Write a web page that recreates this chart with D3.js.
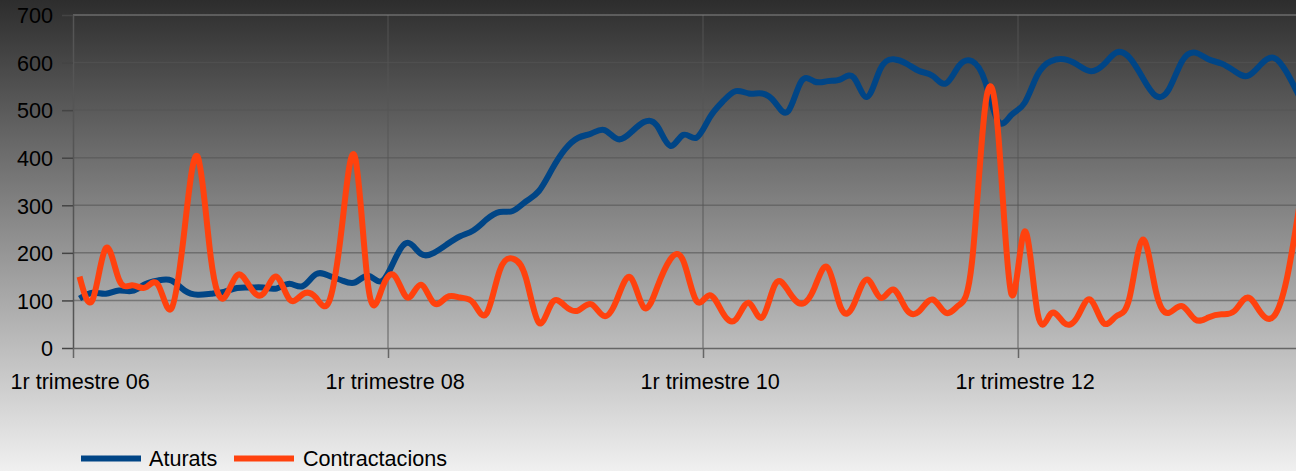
<!DOCTYPE html>
<html><head><meta charset="utf-8">
<script src="https://cdn.jsdelivr.net/npm/d3@7"></script>
<style>body{margin:0;overflow:hidden}svg{display:block}text{font-family:"Liberation Sans",Arial,sans-serif}</style>
</head><body><svg id="c" width="1296" height="471"></svg>
<script>
const seriesNames = ["Aturats", "Contractacions"];
const aturats = [104,116,114,121,120,134,142,142,121,112,114,118,126,127,127,125,135,130,155,152,142,138,152,140,
  185,221,198,200,218,235,247,270,286,288,308,330,376,418,442,451,458,439,453,475,467,425,448,442,
  484,518,540,535,535,516,498,561,560,561,565,568,528,586,607,598,582,572,556,593,603,560,476,490,
  515,575,603,607,596,582,595,621,610,568,530,544,603,621,607,598,582,572,596,610,578,525];
const contractacions = [150,102,210,144,132,127,132,83,250,402,190,105,153,128,114,150,102,113,106,97,258,400,128,122,
  152,106,133,94,107,106,95,72,162,188,148,53,95,88,79,92,67,106,148,85,127,186,183,99,
  111,74,60,95,64,134,120,93,127,169,85,92,144,106,123,81,78,102,74,90,182,508,448,113,
  245,72,72,53,64,102,53,67,106,228,120,74,88,60,64,71,78,106,74,67,148,310];
const xTickIndex = [0, 24, 48, 72];
const xTickLabels = ["1r trimestre 06", "1r trimestre 08", "1r trimestre 10", "1r trimestre 12"];
const yTicks = [0, 100, 200, 300, 400, 500, 600, 700];
const colors = ["#004586", "#ff420e"];

(function () {
const W = 1296, H = 471, FS = 21.6;
const svg = d3.select("#c");
const defs = svg.append("defs");
const grad = defs.append("linearGradient").attr("id", "bg").attr("x1", 0).attr("y1", 0).attr("x2", 0).attr("y2", 1);
grad.append("stop").attr("offset", "0%").attr("stop-color", "#2d2d2d");
grad.append("stop").attr("offset", "100%").attr("stop-color", "#f0f0f0");
svg.append("rect").attr("width", W).attr("height", H).attr("fill", "url(#bg)");

const nCat = 96;
const pLeft = 73, pTop = 15, pBottom = 348;
const x = d3.scaleLinear().domain([0, nCat]).range([pLeft, pLeft + nCat * 13.125]);
const y = d3.scaleLinear().domain([0, 700]).range([pBottom, pTop]);

// grid
const grid = svg.append("g");
grid.selectAll("line.h").data(yTicks.filter(v => v > 0 && v < 700)).enter().append("line")
  .attr("x1", pLeft).attr("x2", W).attr("y1", d => y(d)).attr("y2", d => y(d))
  .attr("stroke", "#555").attr("stroke-opacity", 0.6).attr("stroke-width", 1.5);
grid.selectAll("line.v").data(xTickIndex.slice(1)).enter().append("line")
  .attr("x1", d => x(d)).attr("x2", d => x(d)).attr("y1", pTop).attr("y2", pBottom)
  .attr("stroke", "#555").attr("stroke-opacity", 0.6).attr("stroke-width", 1.5);
grid.append("line").attr("x1", pLeft).attr("x2", W).attr("y1", y(700)).attr("y2", y(700))
  .attr("stroke", "#888").attr("stroke-width", 1.2);

// y axis
const ya = svg.append("g").attr("transform", `translate(${pLeft},0)`)
  .call(d3.axisLeft(y).tickValues(yTicks).tickSize(11).tickSizeOuter(0).tickPadding(9));
ya.select(".domain").attr("stroke", "#555").attr("stroke-width", 1.5);
ya.selectAll(".tick line").attr("stroke", "#444").attr("stroke-width", 1.5);
ya.selectAll("text").attr("font-size", FS).attr("fill", "#000").attr("dy", "0.36em")
  .attr("font-family", '"Liberation Sans", Arial, sans-serif');

// x axis ticks
const xa = svg.append("g").attr("transform", `translate(0,${pBottom})`)
  .call(d3.axisBottom(x).tickValues(xTickIndex).tickSize(10).tickSizeOuter(0).tickFormat(""));
xa.select(".domain").attr("stroke", "#666").attr("stroke-width", 1.5);
xa.selectAll(".tick line").attr("stroke", "#666").attr("stroke-width", 1.5);
// x axis labels at category centres
const xl = svg.append("g").attr("transform", `translate(0,${pBottom})`)
  .call(d3.axisBottom(x).tickValues(xTickIndex.map(i => i + 0.5)).tickSize(0).tickPadding(26)
    .tickFormat((d, i) => xTickLabels[i]));
xl.select(".domain").remove();
xl.selectAll("text").attr("font-size", FS).attr("fill", "#000")
  .attr("font-family", '"Liberation Sans", Arial, sans-serif');

// series
const line = d3.line().x((d, i) => x(i + 0.5)).y(d => y(d)).curve(d3.curveNatural);
[aturats, contractacions].forEach((s, k) => {
  svg.append("path").datum(s).attr("d", line).attr("fill", "none")
    .attr("stroke", colors[k]).attr("stroke-width", 6).attr("stroke-linejoin", "round");
});

// legend
const legendPos = [{lx: 81, tx: 149}, {lx: 234, tx: 303}];
seriesNames.forEach((n, k) => {
  svg.append("line").attr("x1", legendPos[k].lx).attr("x2", legendPos[k].lx + 60)
    .attr("y1", 458.5).attr("y2", 458.5).attr("stroke", colors[k]).attr("stroke-width", 6);
  svg.append("text").attr("x", legendPos[k].tx).attr("y", 466).attr("font-size", FS)
    .attr("fill", "#000").text(n);
});
})();
</script></body></html>
